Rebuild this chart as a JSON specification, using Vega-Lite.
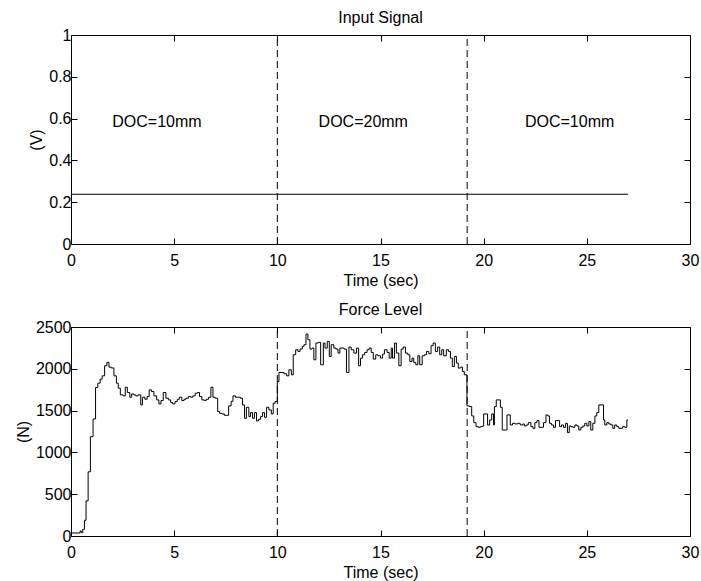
{
  "$schema": "https://vega.github.io/schema/vega-lite/v6.json",
  "background": "white",
  "padding": {"left": 14, "top": 9, "right": 5, "bottom": 5},
  "spacing": 12,
  "config": {
    "font": "Liberation Sans",
    "view": {"stroke": "black", "strokeWidth": 1},
    "axis": {
      "domain": false, "grid": false, "tickColor": "black", "tickSize": -6, "tickWidth": 1,
      "labelFont": "Liberation Sans", "labelFontSize": 16, "labelColor": "black",
      "titleFont": "Liberation Sans", "titleFontSize": 16, "titleFontWeight": "normal", "titleColor": "black",
      "labelFlush": false, "labelOverlap": false
    },
    "axisX": {"labelPadding": 14.5},
    "axisY": {"labelPadding": 6},
    "title": {"font": "Liberation Sans", "fontSize": 16, "fontWeight": "normal", "color": "black", "anchor": "middle", "frame": "group", "baseline": "alphabetic", "offset": 1}
  },
  "datasets": {
    "signal": [{"t": 0, "v": 0.238}, {"t": 27, "v": 0.238}],
    "changes": [{"t": 10}, {"t": 19.2}],
    "labels": [{"t": 2, "v": 0.6, "label": "DOC=10mm"}, {"t": 12, "v": 0.6, "label": "DOC=20mm"}, {"t": 22, "v": 0.6, "label": "DOC=10mm"}],
    "force": [
      {"t": 0, "f": 36}, {"t": 0.44, "f": 60}, {"t": 0.5, "f": 40}, {"t": 0.57, "f": 80}, {"t": 0.65, "f": 188}, {"t": 0.73, "f": 420}, {"t": 0.83, "f": 768}, {"t": 0.94, "f": 1188}, {"t": 1.07, "f": 1400}, {"t": 1.19, "f": 1776}, {"t": 1.3, "f": 1828}, {"t": 1.41, "f": 1876}, {"t": 1.51, "f": 1916}, {"t": 1.63, "f": 2036}, {"t": 1.74, "f": 2076}, {"t": 1.84, "f": 2020}, {"t": 1.95, "f": 2010}, {"t": 2.08, "f": 1916}, {"t": 2.2, "f": 1828}, {"t": 2.29, "f": 1768}, {"t": 2.39, "f": 1688}, {"t": 2.52, "f": 1676}, {"t": 2.63, "f": 1780}, {"t": 2.73, "f": 1716}, {"t": 2.85, "f": 1660}, {"t": 2.94, "f": 1700}, {"t": 3.04, "f": 1688}, {"t": 3.14, "f": 1676}, {"t": 3.25, "f": 1688}, {"t": 3.38, "f": 1568}, {"t": 3.46, "f": 1660}, {"t": 3.58, "f": 1636}, {"t": 3.69, "f": 1668}, {"t": 3.79, "f": 1748}, {"t": 3.9, "f": 1728}, {"t": 4.02, "f": 1676}, {"t": 4.15, "f": 1628}, {"t": 4.26, "f": 1580}, {"t": 4.36, "f": 1620}, {"t": 4.47, "f": 1716}, {"t": 4.6, "f": 1648}, {"t": 4.72, "f": 1628}, {"t": 4.83, "f": 1596}, {"t": 4.93, "f": 1580}, {"t": 5.04, "f": 1608}, {"t": 5.15, "f": 1636}, {"t": 5.25, "f": 1660}, {"t": 5.37, "f": 1620}, {"t": 5.48, "f": 1636}, {"t": 5.58, "f": 1648}, {"t": 5.69, "f": 1668}, {"t": 5.8, "f": 1660}, {"t": 5.9, "f": 1676}, {"t": 6.02, "f": 1708}, {"t": 6.13, "f": 1716}, {"t": 6.23, "f": 1668}, {"t": 6.34, "f": 1628}, {"t": 6.46, "f": 1620}, {"t": 6.55, "f": 1636}, {"t": 6.67, "f": 1660}, {"t": 6.78, "f": 1780}, {"t": 6.88, "f": 1660}, {"t": 6.99, "f": 1648}, {"t": 7.11, "f": 1488}, {"t": 7.2, "f": 1468}, {"t": 7.32, "f": 1460}, {"t": 7.43, "f": 1444}, {"t": 7.64, "f": 1556}, {"t": 7.76, "f": 1612}, {"t": 7.85, "f": 1676}, {"t": 7.97, "f": 1660}, {"t": 8.09, "f": 1660}, {"t": 8.21, "f": 1648}, {"t": 8.31, "f": 1568}, {"t": 8.41, "f": 1408}, {"t": 8.5, "f": 1540}, {"t": 8.62, "f": 1428}, {"t": 8.7, "f": 1476}, {"t": 8.8, "f": 1408}, {"t": 8.89, "f": 1476}, {"t": 8.99, "f": 1376}, {"t": 9.09, "f": 1396}, {"t": 9.19, "f": 1428}, {"t": 9.28, "f": 1476}, {"t": 9.38, "f": 1420}, {"t": 9.48, "f": 1540}, {"t": 9.59, "f": 1508}, {"t": 9.71, "f": 1460}, {"t": 9.8, "f": 1588}, {"t": 9.89, "f": 1608},
      {"t": 10.0, "f": 1848}, {"t": 10.08, "f": 1956}, {"t": 10.32, "f": 1940}, {"t": 10.45, "f": 1916}, {"t": 10.56, "f": 1988}, {"t": 10.68, "f": 1928}, {"t": 10.77, "f": 2168}, {"t": 10.89, "f": 2228}, {"t": 11.0, "f": 2208}, {"t": 11.1, "f": 2236}, {"t": 11.21, "f": 2268}, {"t": 11.29, "f": 2288}, {"t": 11.39, "f": 2416}, {"t": 11.48, "f": 2348}, {"t": 11.58, "f": 2236}, {"t": 11.68, "f": 2248}, {"t": 11.77, "f": 2108}, {"t": 11.87, "f": 2308}, {"t": 11.98, "f": 2316}, {"t": 12.1, "f": 2048}, {"t": 12.23, "f": 2308}, {"t": 12.31, "f": 2248}, {"t": 12.42, "f": 2328}, {"t": 12.52, "f": 2148}, {"t": 12.61, "f": 2288}, {"t": 12.74, "f": 2248}, {"t": 12.84, "f": 2236}, {"t": 12.94, "f": 2188}, {"t": 13.03, "f": 2248}, {"t": 13.23, "f": 2236}, {"t": 13.35, "f": 1956}, {"t": 13.47, "f": 2260}, {"t": 13.58, "f": 2228}, {"t": 13.71, "f": 2188}, {"t": 13.84, "f": 2248}, {"t": 13.94, "f": 2036}, {"t": 14.03, "f": 2128}, {"t": 14.13, "f": 2168}, {"t": 14.23, "f": 2196}, {"t": 14.35, "f": 2228}, {"t": 14.45, "f": 2248}, {"t": 14.55, "f": 2196}, {"t": 14.65, "f": 2116}, {"t": 14.77, "f": 2168}, {"t": 14.87, "f": 2156}, {"t": 15.0, "f": 2128}, {"t": 15.1, "f": 2176}, {"t": 15.19, "f": 2228}, {"t": 15.32, "f": 2196}, {"t": 15.42, "f": 2128}, {"t": 15.52, "f": 2248}, {"t": 15.58, "f": 2128}, {"t": 15.68, "f": 2308}, {"t": 15.77, "f": 2188}, {"t": 15.89, "f": 2036}, {"t": 16.0, "f": 2236}, {"t": 16.1, "f": 2260}, {"t": 16.21, "f": 2188}, {"t": 16.32, "f": 2168}, {"t": 16.42, "f": 2088}, {"t": 16.53, "f": 2128}, {"t": 16.61, "f": 2076}, {"t": 16.71, "f": 2048}, {"t": 16.81, "f": 2156}, {"t": 16.9, "f": 2048}, {"t": 17.02, "f": 2156}, {"t": 17.13, "f": 2168}, {"t": 17.23, "f": 2208}, {"t": 17.34, "f": 2180}, {"t": 17.45, "f": 2276}, {"t": 17.55, "f": 2308}, {"t": 17.66, "f": 2208}, {"t": 17.77, "f": 2260}, {"t": 17.87, "f": 2168}, {"t": 17.97, "f": 2228}, {"t": 18.06, "f": 2156}, {"t": 18.19, "f": 2228}, {"t": 18.29, "f": 2208}, {"t": 18.39, "f": 2128}, {"t": 18.48, "f": 2028}, {"t": 18.58, "f": 2148}, {"t": 18.68, "f": 2068}, {"t": 18.77, "f": 2008}, {"t": 18.87, "f": 2020}, {"t": 18.97, "f": 1968}, {"t": 19.06, "f": 1928},
      {"t": 19.19, "f": 1556}, {"t": 19.31, "f": 1548}, {"t": 19.42, "f": 1436}, {"t": 19.52, "f": 1356}, {"t": 19.63, "f": 1308}, {"t": 19.74, "f": 1300}, {"t": 19.84, "f": 1308}, {"t": 19.95, "f": 1316}, {"t": 20.0, "f": 1460}, {"t": 20.19, "f": 1328}, {"t": 20.29, "f": 1388}, {"t": 20.39, "f": 1460}, {"t": 20.48, "f": 1328}, {"t": 20.52, "f": 1548}, {"t": 20.61, "f": 1628}, {"t": 20.81, "f": 1540}, {"t": 20.9, "f": 1268}, {"t": 21.13, "f": 1448}, {"t": 21.29, "f": 1328}, {"t": 21.4, "f": 1348}, {"t": 21.52, "f": 1340}, {"t": 21.65, "f": 1348}, {"t": 21.77, "f": 1328}, {"t": 21.89, "f": 1340}, {"t": 21.97, "f": 1316}, {"t": 22.06, "f": 1328}, {"t": 22.16, "f": 1356}, {"t": 22.29, "f": 1308}, {"t": 22.39, "f": 1288}, {"t": 22.48, "f": 1356}, {"t": 22.58, "f": 1380}, {"t": 22.68, "f": 1300}, {"t": 22.9, "f": 1356}, {"t": 23.02, "f": 1448}, {"t": 23.1, "f": 1436}, {"t": 23.19, "f": 1348}, {"t": 23.29, "f": 1328}, {"t": 23.39, "f": 1300}, {"t": 23.48, "f": 1380}, {"t": 23.68, "f": 1308}, {"t": 23.77, "f": 1328}, {"t": 23.87, "f": 1300}, {"t": 23.97, "f": 1348}, {"t": 24.06, "f": 1236}, {"t": 24.15, "f": 1316}, {"t": 24.23, "f": 1308}, {"t": 24.32, "f": 1300}, {"t": 24.42, "f": 1328}, {"t": 24.52, "f": 1316}, {"t": 24.61, "f": 1268}, {"t": 24.71, "f": 1300}, {"t": 24.81, "f": 1316}, {"t": 24.9, "f": 1348}, {"t": 25.0, "f": 1316}, {"t": 25.1, "f": 1368}, {"t": 25.19, "f": 1268}, {"t": 25.29, "f": 1348}, {"t": 25.39, "f": 1436}, {"t": 25.48, "f": 1476}, {"t": 25.58, "f": 1568}, {"t": 25.81, "f": 1388}, {"t": 25.87, "f": 1328}, {"t": 25.97, "f": 1356}, {"t": 26.06, "f": 1340}, {"t": 26.16, "f": 1328}, {"t": 26.26, "f": 1288}, {"t": 26.35, "f": 1328}, {"t": 26.45, "f": 1308}, {"t": 26.55, "f": 1288}, {"t": 26.74, "f": 1308}, {"t": 26.84, "f": 1300}, {"t": 26.94, "f": 1388}, {"t": 27.0, "f": 1388}
    ]
  },
  "vconcat": [
    {
      "width": 619, "height": 209,
      "title": {"text": "Input Signal"},
      "layer": [
        {
          "data": {"name": "signal"},
          "mark": {"type": "line", "color": "black", "strokeWidth": 1},
          "encoding": {
            "x": {"field": "t", "type": "quantitative", "scale": {"domain": [0, 30], "nice": false, "zero": false},
                  "axis": {"orient": "bottom", "title": "Time (sec)", "values": [0, 5, 10, 15, 20, 25, 30], "format": "d"}},
            "y": {"field": "v", "type": "quantitative", "scale": {"domain": [0, 1], "nice": false},
                  "axis": {"orient": "left", "title": "(V)", "values": [0, 0.2, 0.4, 0.6, 0.8, 1], "format": "~g"}}
          }
        },
        {
          "data": {"name": "changes"},
          "mark": {"type": "rule", "color": "black", "strokeWidth": 1, "strokeDash": [7, 4]},
          "encoding": {
            "x": {"field": "t", "type": "quantitative", "scale": {"domain": [0, 30], "nice": false, "zero": false},
                  "axis": {"orient": "top", "title": null, "labels": false, "values": [0, 5, 10, 15, 20, 25, 30]}},
            "y": {"datum": 0, "type": "quantitative", "scale": {"domain": [0, 1], "nice": false},
                  "axis": {"orient": "right", "title": null, "labels": false, "values": [0, 0.2, 0.4, 0.6, 0.8, 1]}},
            "y2": {"datum": 1}
          }
        },
        {
          "data": {"name": "labels"},
          "mark": {"type": "text", "align": "left", "baseline": "middle", "fontSize": 16, "font": "Liberation Sans", "color": "black", "dy": 3},
          "encoding": {
            "x": {"field": "t", "type": "quantitative", "scale": {"domain": [0, 30], "nice": false, "zero": false}, "axis": null},
            "y": {"field": "v", "type": "quantitative", "scale": {"domain": [0, 1], "nice": false}, "axis": null},
            "text": {"field": "label"}
          }
        }
      ],
      "resolve": {"axis": {"x": "independent", "y": "independent"}}
    },
    {
      "width": 619, "height": 209,
      "title": {"text": "Force Level"},
      "layer": [
        {
          "data": {"name": "force"},
          "mark": {"type": "line", "color": "black", "strokeWidth": 1, "interpolate": "step-after"},
          "encoding": {
            "x": {"field": "t", "type": "quantitative", "scale": {"domain": [0, 30], "nice": false, "zero": false},
                  "axis": {"orient": "bottom", "title": "Time (sec)", "values": [0, 5, 10, 15, 20, 25, 30], "format": "d"}},
            "y": {"field": "f", "type": "quantitative", "scale": {"domain": [0, 2500], "nice": false},
                  "axis": {"orient": "left", "title": "(N)", "values": [0, 500, 1000, 1500, 2000, 2500], "format": "d"}}
          }
        },
        {
          "data": {"name": "changes"},
          "mark": {"type": "rule", "color": "black", "strokeWidth": 1, "strokeDash": [7, 4]},
          "encoding": {
            "x": {"field": "t", "type": "quantitative", "scale": {"domain": [0, 30], "nice": false, "zero": false},
                  "axis": {"orient": "top", "title": null, "labels": false, "values": [0, 5, 10, 15, 20, 25, 30]}},
            "y": {"datum": 0, "type": "quantitative", "scale": {"domain": [0, 2500], "nice": false},
                  "axis": {"orient": "right", "title": null, "labels": false, "values": [0, 500, 1000, 1500, 2000, 2500]}},
            "y2": {"datum": 2500}
          }
        }
      ],
      "resolve": {"axis": {"x": "independent", "y": "independent"}}
    }
  ]
}
